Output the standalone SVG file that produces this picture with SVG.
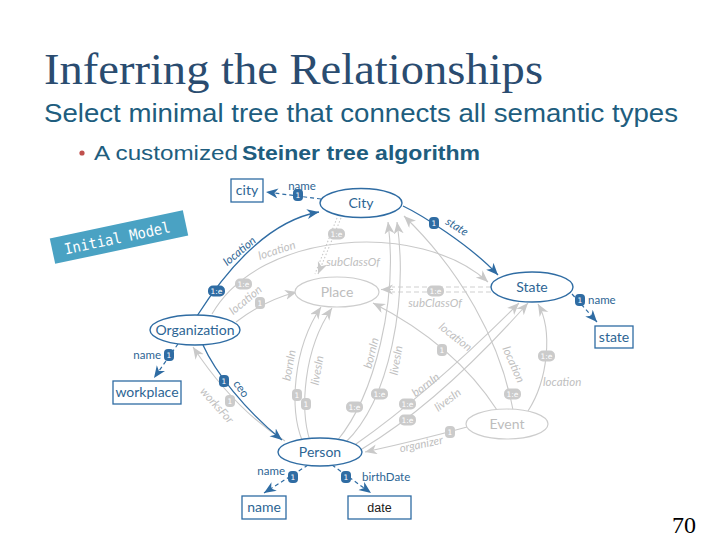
<svg xmlns="http://www.w3.org/2000/svg" width="720" height="540" viewBox="0 0 720 540">
<style>
.b{fill:none;stroke:#2f6ca3;stroke-width:1.3}
.bd{fill:none;stroke:#2f6ca3;stroke-width:1.2;stroke-dasharray:4 3}
.g{fill:none;stroke:#c9c9c9;stroke-width:1.1}
.gd{fill:none;stroke:#cfcfcf;stroke-width:1.1;stroke-dasharray:5 3}
.gdot{fill:none;stroke:#c9c9c9;stroke-width:1.1;stroke-dasharray:1.5 2}
.nb{fill:#fff;stroke:#2f6ca3;stroke-width:1.4}
.ng{fill:#fff;stroke:#cdcdcd;stroke-width:1.2}
.tb{font-family:Lato,"Open Sans",sans-serif;font-size:14px;fill:#2d6594;text-anchor:middle}
.tg{font-family:Lato,"Open Sans",sans-serif;font-size:14px;fill:#bdbdbd;text-anchor:middle}
.lb{font-family:Lato,"Open Sans",sans-serif;font-size:11.5px;fill:#2d6594}
.lg{font-family:Lato,"Open Sans",sans-serif;font-size:11.5px;fill:#c0c0c0;font-style:italic}
.bbr{fill:#2f6ca3}
.gbr{fill:#cbcbcb}
.bt{font-family:"DejaVu Sans",sans-serif;font-size:7.5px;fill:#fff;text-anchor:middle}
.box{fill:#fff;stroke:#2f6ca3;stroke-width:1.3}
</style>
<defs>
<marker id="ab" markerUnits="userSpaceOnUse" markerWidth="13" markerHeight="11" refX="12" refY="5" orient="auto"><path d="M0,0 L12,5 L0,10 L3.5,5 Z" fill="#2f6ca3"/></marker>
<marker id="ag" markerUnits="userSpaceOnUse" markerWidth="13" markerHeight="11" refX="12" refY="5" orient="auto"><path d="M0,0 L12,5 L0,10 L3.5,5 Z" fill="#c9c9c9"/></marker>
</defs>
<rect width="720" height="540" fill="#fff"/>

<g id="heading">
<text x="44" y="84" font-family="'Liberation Serif',serif" font-size="45" fill="#2a4c70" textLength="499" lengthAdjust="spacingAndGlyphs">Inferring the Relationships</text>
<text x="44" y="122" font-family="'Liberation Sans',sans-serif" font-size="26" fill="#205d7e" textLength="634" lengthAdjust="spacingAndGlyphs">Select minimal tree that connects all semantic types</text>
<circle cx="82" cy="153" r="2.6" fill="#c0504d"/>
<text x="94" y="160" font-family="'Liberation Sans',sans-serif" font-size="20" fill="#205d7e" textLength="144" lengthAdjust="spacingAndGlyphs">A customized</text>
<text x="242" y="160" font-family="'Liberation Sans',sans-serif" font-size="20" font-weight="bold" fill="#205d7e" textLength="238" lengthAdjust="spacingAndGlyphs">Steiner tree algorithm</text>
<text x="672" y="533" font-family="'Liberation Serif',serif" font-size="24" fill="#000">70</text>
</g>

<g id="banner" transform="translate(119,237) rotate(-12)">
<rect x="-68" y="-13" width="136" height="26" fill="#4aa2c3"/>
<text x="-2" y="6" font-family="'DejaVu Sans Mono',monospace" font-size="15" fill="#fff" text-anchor="middle" textLength="108" lengthAdjust="spacingAndGlyphs">Initial Model</text>
</g>

<g id="connectors">
<!-- gray -->
<path class="g" d="M212,314 C260,230 420,220 488,282" marker-end="url(#ag)"/>
<path class="g" d="M236,322 Q265,300 297,292" marker-end="url(#ag)"/>
<path class="gdot" d="M337,218 L315,274"/>
<path class="gdot" d="M341,218 L318,274" marker-end="url(#ag)"/>
<path class="gd" d="M491,287 L392,287"/>
<path class="gd" d="M491,292 L392,292"/>
<path class="g" d="M393,289.5 L381,289.5" marker-end="url(#ag)"/>
<path class="g" d="M302,440 C290,410 292,350 321,307" marker-end="url(#ag)"/>
<path class="g" d="M310,441 C300,410 303,350 332,308" marker-end="url(#ag)"/>
<path class="g" d="M337,441 C375,395 398,300 388,222" marker-end="url(#ag)"/>
<path class="g" d="M345,443 C390,400 408,300 397,222" marker-end="url(#ag)"/>
<path class="g" d="M356,444 Q430,392 519,303" marker-end="url(#ag)"/>
<path class="g" d="M362,449 Q440,402 528,303" marker-end="url(#ag)"/>
<path class="g" d="M285,441 Q235,410 193,347" marker-end="url(#ag)"/>
<path class="g" d="M497,410 Q455,345 373,303" marker-end="url(#ag)"/>
<path class="g" d="M513,410 C500,340 460,270 404,216" marker-end="url(#ag)"/>
<path class="g" d="M528,411 C548,380 553,330 538,304" marker-end="url(#ag)"/>
<path class="g" d="M467,427 Q420,440 365,452" marker-end="url(#ag)"/>
<!-- blue -->
<path class="bd" d="M321,199 L266,192" marker-end="url(#ab)"/>
<path class="b" d="M197,316 C220,280 262,222 319,212" marker-end="url(#ab)"/>
<path class="b" d="M403,206 C420,214 470,245 498,275" marker-end="url(#ab)"/>
<path class="bd" d="M572,294 L597,322" marker-end="url(#ab)"/>
<path class="bd" d="M178,344 L154,378" marker-end="url(#ab)"/>
<path class="b" d="M203,345 C215,372 245,410 282,440" marker-end="url(#ab)"/>
<path class="bd" d="M308,465 L264,493" marker-end="url(#ab)"/>
<path class="bd" d="M332,465 L371,493" marker-end="url(#ab)"/>
</g>

<g id="edge-labels">
<text class="lg" transform="translate(278,254) rotate(-18)" text-anchor="middle">location</text>
<text class="lg" transform="translate(248,303) rotate(-40)" text-anchor="middle">location</text>
<text class="lg" x="353" y="266" text-anchor="middle">subClassOf</text>
<text class="lg" x="435" y="307" text-anchor="middle">subClassOf</text>
<text class="lg" transform="translate(293,366) rotate(-80)" text-anchor="middle">bornIn</text>
<text class="lg" transform="translate(321,371) rotate(-80)" text-anchor="middle">livesIn</text>
<text class="lg" transform="translate(375,354) rotate(-76)" text-anchor="middle">bornIn</text>
<text class="lg" transform="translate(400,361) rotate(-80)" text-anchor="middle">livesIn</text>
<text class="lg" transform="translate(428,388) rotate(-37)" text-anchor="middle">bornIn</text>
<text class="lg" transform="translate(450,403) rotate(-37)" text-anchor="middle">livesIn</text>
<text class="lg" transform="translate(214,408) rotate(48)" text-anchor="middle">worksFor</text>
<text class="lg" transform="translate(453,340) rotate(38)" text-anchor="middle">location</text>
<text class="lg" transform="translate(510,366) rotate(66)" text-anchor="middle">location</text>
<text class="lg" x="543" y="386">location</text>
<text class="lg" transform="translate(422,448) rotate(-12)" text-anchor="middle">organizer</text>
<text class="lb" x="302" y="190" text-anchor="middle">name</text>
<text class="lb" font-style="italic" transform="translate(242,254) rotate(-40)" text-anchor="middle">location</text>
<text class="lb" font-style="italic" transform="translate(455,230) rotate(32)" text-anchor="middle">state</text>
<text class="lb" x="588" y="304">name</text>
<text class="lb" x="161" y="359" text-anchor="end">name</text>
<text class="lb" transform="translate(238,391) rotate(55)" text-anchor="middle">ceo</text>
<text class="lb" x="285" y="475" text-anchor="end">name</text>
<text class="lb" x="362" y="481">birthDate</text>
</g>

<g id="badges">
<g><rect class="bbr" x="293" y="189" width="10" height="12" rx="4"/><text class="bt" x="298" y="198">1</text></g>
<g><rect class="bbr" x="208" y="285.5" width="17" height="11" rx="5"/><text class="bt" x="216.5" y="294">1:e</text></g>
<g><rect class="bbr" x="429" y="217" width="10" height="12" rx="4"/><text class="bt" x="434" y="226">1</text></g>
<g><rect class="bbr" x="575" y="294" width="10" height="12" rx="4"/><text class="bt" x="580" y="303">1</text></g>
<g><rect class="bbr" x="164" y="349" width="10" height="12" rx="4"/><text class="bt" x="169" y="358">1</text></g>
<g><rect class="bbr" x="219" y="375" width="10" height="12" rx="4"/><text class="bt" x="224" y="384">1</text></g>
<g><rect class="bbr" x="288" y="471" width="10" height="12" rx="4"/><text class="bt" x="293" y="480">1</text></g>
<g><rect class="bbr" x="341" y="471" width="10" height="12" rx="4"/><text class="bt" x="346" y="480">1</text></g>

<g><rect class="gbr" x="328" y="228.5" width="17" height="11" rx="5"/><text class="bt" x="336.5" y="237">1:e</text></g>
<g><rect class="gbr" x="235" y="278.5" width="17" height="11" rx="5"/><text class="bt" x="243.5" y="287">1:e</text></g>
<g><rect class="gbr" x="255" y="297" width="10" height="12" rx="4"/><text class="bt" x="260" y="306">1</text></g>
<g><rect class="gbr" x="427" y="285.5" width="17" height="11" rx="5"/><text class="bt" x="435.5" y="294">1:e</text></g>
<g><rect class="gbr" x="292" y="389" width="10" height="12" rx="4"/><text class="bt" x="297" y="398">1</text></g>
<g><rect class="gbr" x="301" y="398" width="10" height="12" rx="4"/><text class="bt" x="306" y="407">1</text></g>
<g><rect class="gbr" x="225" y="395" width="10" height="12" rx="4"/><text class="bt" x="230" y="404">1</text></g>
<g><rect class="gbr" x="346" y="401.5" width="17" height="11" rx="5"/><text class="bt" x="354.5" y="410">1:e</text></g>
<g><rect class="gbr" x="371" y="388.5" width="17" height="11" rx="5"/><text class="bt" x="379.5" y="397">1:e</text></g>
<g><rect class="gbr" x="399" y="398.5" width="17" height="11" rx="5"/><text class="bt" x="407.5" y="407">1:e</text></g>
<g><rect class="gbr" x="399" y="414.5" width="17" height="11" rx="5"/><text class="bt" x="407.5" y="423">1:e</text></g>
<g><rect class="gbr" x="437" y="344" width="10" height="12" rx="4"/><text class="bt" x="442" y="353">1</text></g>
<g><rect class="gbr" x="504" y="388.5" width="17" height="11" rx="5"/><text class="bt" x="512.5" y="397">1:e</text></g>
<g><rect class="gbr" x="538" y="350.5" width="17" height="11" rx="5"/><text class="bt" x="546.5" y="359">1:e</text></g>
<g><rect class="gbr" x="445" y="426" width="10" height="12" rx="4"/><text class="bt" x="450" y="435">1</text></g>
</g>

<g id="node-city"><ellipse class="nb" cx="361" cy="203" rx="41" ry="14.5"/><text class="tb" x="361" y="208">City</text></g>
<g id="node-state"><ellipse class="nb" cx="532" cy="287" rx="41" ry="15"/><text class="tb" x="532" y="292">State</text></g>
<g id="node-place"><ellipse class="ng" cx="337" cy="292" rx="42" ry="15"/><text class="tg" x="337" y="297">Place</text></g>
<g id="node-organization"><ellipse class="nb" cx="195" cy="330" rx="45" ry="15"/><text class="tb" x="195" y="335">Organization</text></g>
<g id="node-person"><ellipse class="nb" cx="320" cy="452" rx="42" ry="14"/><text class="tb" x="320" y="457">Person</text></g>
<g id="node-event"><ellipse class="ng" cx="507" cy="424" rx="41" ry="15"/><text class="tg" x="507" y="429">Event</text></g>

<g id="box-city"><rect class="box" x="231" y="179" width="32" height="23"/><text class="tb" x="247" y="195">city</text></g>
<g id="box-state"><rect class="box" x="595" y="326" width="38" height="22"/><text class="tb" x="614" y="342">state</text></g>
<g id="box-workplace"><rect class="box" x="113" y="381" width="68" height="23"/><text class="tb" x="147" y="397">workplace</text></g>
<g id="box-name"><rect class="box" x="242" y="496" width="44" height="23"/><text class="tb" x="264" y="512">name</text></g>
<g id="box-date"><rect class="box" x="348" y="496" width="63" height="23"/><text x="379.5" y="512" font-family="'Liberation Sans',sans-serif" font-size="12.5" fill="#1a1a1a" text-anchor="middle">date</text></g>
</svg>
